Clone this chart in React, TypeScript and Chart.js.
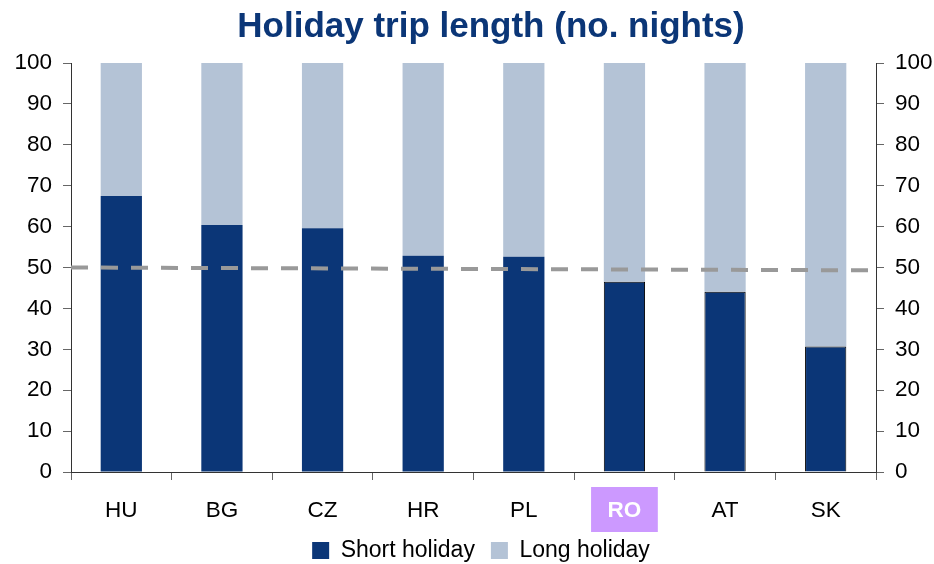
import React, { useEffect, useRef } from "react";
import { Chart, registerables } from "chart.js";

Chart.register(...registerables);

// ---- data ----
const categories = ["HU", "BG", "CZ", "HR", "PL", "RO", "AT", "SK"];
const shortHoliday = [67.5, 60.4, 59.6, 52.9, 52.6, 46.5, 44.1, 30.7];
const longHoliday = [32.5, 39.6, 40.4, 47.1, 47.4, 53.5, 55.9, 69.3];
const referenceLineX = [0, 8];
const referenceLineY = [50, 49.3];
const yMin = 0;
const yMax = 100;
const yStep = 10;
const highlightedCategory = "RO";
const outlinedCategories = ["RO", "AT", "SK"];
const titleText = "Holiday trip length (no. nights)";
const seriesNames = ["Short holiday", "Long holiday"];

const FONT = "'Liberation Sans', Arial, Helvetica, sans-serif";
const DARK = "#0B3677";
const LIGHT = "#B4C3D6";
const HILITE = "#CC99FF";
const TICK_SIZE = 22.5;

// draws the coloured box behind the highlighted category label and
// nudges the title / legend boxes to where the reference centres them
const layoutAndHighlight = {
  id: "layoutAndHighlight",
  afterLayout(chart: any) {
    if (chart.titleBlock) chart.titleBlock.left = 48;
    if (chart.legend) chart.legend.left = 28;
  },
  beforeDraw(chart: any) {
    const idx = categories.indexOf(highlightedCategory);
    const xs = chart.scales.x;
    if (idx < 0 || !xs) return;
    const cx = xs.getPixelForValue(idx);
    const ctx = chart.ctx;
    ctx.save();
    ctx.font = `bold ${TICK_SIZE}px ${FONT}`;
    const w = ctx.measureText(highlightedCategory).width;
    const boxW = w + 33;
    const top = xs.top + 15;
    const boxH = 45;
    ctx.fillStyle = HILITE;
    ctx.fillRect(cx - boxW / 2, top, boxW, boxH);
    ctx.restore();
  },
};

export default function App() {
  const canvasRef = useRef<HTMLCanvasElement | null>(null);

  useEffect(() => {
    if (!canvasRef.current) return;
    const hiIndex = categories.indexOf(highlightedCategory);

    const yAxisCommon = {
      min: yMin,
      max: yMax,
      ticks: {
        stepSize: yStep,
        color: "#000",
        padding: 11,
        font: { family: FONT, size: TICK_SIZE },
      },
      grid: {
        display: true,
        drawOnChartArea: false,
        drawTicks: true,
        tickLength: 8,
        color: "#666",
      },
      border: { display: true, color: "#333", width: 1 },
    };

    const chart = new Chart(canvasRef.current, {
      type: "bar",
      plugins: [layoutAndHighlight],
      data: {
        labels: categories,
        datasets: [
          {
            type: "bar",
            label: seriesNames[0],
            data: shortHoliday,
            backgroundColor: DARK,
            borderColor: "#000",
            borderWidth: categories.map((c) =>
              outlinedCategories.includes(c) ? 1 : 0
            ),
            barPercentage: 0.41,
            categoryPercentage: 1,
            grouped: false,
            order: 1,
          },
          {
            type: "bar",
            label: seriesNames[1],
            data: longHoliday,
            backgroundColor: LIGHT,
            borderWidth: 0,
            barPercentage: 0.41,
            categoryPercentage: 1,
            grouped: false,
            order: 1,
          },
          {
            type: "line",
            label: "ref",
            data: referenceLineX.map((x, i) => ({ x, y: referenceLineY[i] })),
            xAxisID: "x2",
            yAxisID: "y",
            borderColor: "#999999",
            borderWidth: 4,
            borderDash: [17, 13],
            borderCapStyle: "butt",
            pointRadius: 0,
            fill: false,
            order: 0,
          } as any,
        ],
      },
      options: {
        animation: false,
        responsive: true,
        maintainAspectRatio: false,
        devicePixelRatio: 1,
        layout: { padding: { left: 0, right: 0, top: 0, bottom: 0 } },
        plugins: {
          title: {
            display: true,
            text: titleText,
            color: DARK,
            font: { family: FONT, size: 35, weight: "bold" },
            padding: { top: 6, bottom: 15 },
          },
          legend: {
            display: true,
            position: "bottom",
            labels: {
              color: "#000",
              font: { family: FONT, size: 23 },
              boxWidth: 17,
              boxHeight: 17,
              padding: 16,
              filter: (item: any) => item.datasetIndex < 2,
            },
          },
          tooltip: { enabled: false },
        },
        scales: {
          x: {
            type: "category",
            stacked: true,
            offset: true,
            grid: {
              display: true,
              drawOnChartArea: false,
              drawTicks: true,
              tickLength: 8,
              color: "#666",
              offset: true,
            },
            border: { display: true, color: "#333", width: 1 },
            ticks: {
              autoSkip: false,
              maxRotation: 0,
              padding: 17,
              color: (ctx: any) => (ctx.index === hiIndex ? "#fff" : "#000"),
              font: (ctx: any) => ({
                family: FONT,
                size: TICK_SIZE,
                weight: ctx.index === hiIndex ? "bold" : "normal",
              }),
            },
            afterFit: (s: any) => {
              s.height = 51;
            },
          } as any,
          x2: {
            type: "linear",
            display: false,
            min: referenceLineX[0],
            max: referenceLineX[1],
            offset: false,
          },
          y: {
            ...yAxisCommon,
            position: "left",
            stacked: true,
            afterFit: (s: any) => {
              s.width = 71;
            },
          } as any,
          y2: {
            ...yAxisCommon,
            position: "right",
            afterFit: (s: any) => {
              s.width = 58;
            },
          } as any,
        },
      },
    });

    return () => chart.destroy();
  }, []);

  return (
    <div
      style={{
        position: "absolute",
        left: 0,
        top: 0,
        width: 934,
        height: 564,
        overflow: "hidden",
        background: "#fff",
      }}
    >
      <div style={{ position: "relative", width: 934, height: 572 }}>
        <canvas ref={canvasRef} />
      </div>
    </div>
  );
}
